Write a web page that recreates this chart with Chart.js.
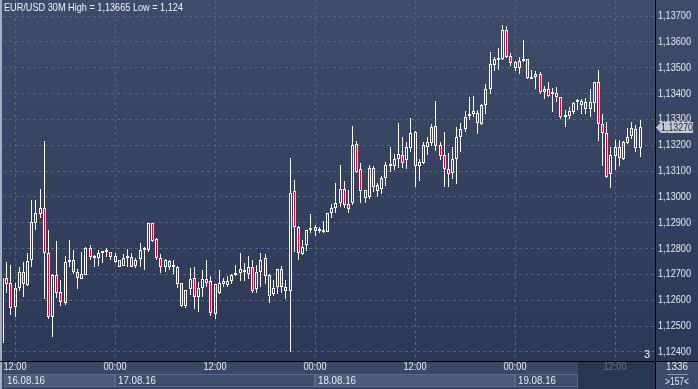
<!DOCTYPE html>
<html>
<head>
<meta charset="utf-8">
<title>EUR/USD 30M</title>
<script src="https://cdn.jsdelivr.net/npm/chart.js@4.4.0/dist/chart.umd.min.js"></script>
<style>
  html, body { margin: 0; padding: 0; background: #2d3956; overflow: hidden; }
  canvas { display: block; }
</style>
</head>
<body>
<canvas id="priceChart" width="698" height="389"></canvas>
<script>
// 30 minute bars, bar 0 = 16.08.16 11:00 (bar -1 is cut by the left edge)
var firstBar = -1;

var opens = [1.12434,
  1.12685, 1.12666, 1.12573, 1.12647, 1.12708, 1.12659, 1.12754, 1.12898, 1.12933, 1.12956,
  1.12782, 1.12537, 1.12698, 1.12631, 1.12591, 1.12747, 1.12756, 1.12711, 1.12683, 1.12698,
  1.12801, 1.12772, 1.12763, 1.12782, 1.12785, 1.12786, 1.12772, 1.12754, 1.12734, 1.12763,
  1.12769, 1.12733, 1.12760, 1.12795, 1.12795, 1.12898, 1.12837, 1.12763, 1.12730, 1.12752,
  1.12729, 1.12730, 1.12666, 1.12576, 1.12643, 1.12685, 1.12614, 1.12649, 1.12681, 1.12674,
  1.12546, 1.12627, 1.12675, 1.12659, 1.12676, 1.12697, 1.12707, 1.12717, 1.12702, 1.12728,
  1.12643, 1.12711, 1.12763, 1.12697, 1.12623, 1.12650, 1.12720, 1.12650, 1.12637, 1.13021,
  1.12885, 1.12779, 1.12813, 1.12872, 1.12883, 1.12867, 1.12872, 1.12865, 1.12936, 1.12956,
  1.12978, 1.13029, 1.12971, 1.12978, 1.13205, 1.13107, 1.13027, 1.13001, 1.13112, 1.13046,
  1.13029, 1.13074, 1.13121, 1.13121, 1.13145, 1.13162, 1.13143, 1.13190, 1.13252, 1.13121,
  1.13132, 1.13194, 1.13210, 1.13274, 1.13201, 1.13162, 1.13108, 1.13091, 1.13145, 1.13230,
  1.13263, 1.13314, 1.13319, 1.13323, 1.13282, 1.13355, 1.13416, 1.13510, 1.13530, 1.13532,
  1.13646, 1.13545, 1.13524, 1.13497, 1.13526, 1.13532, 1.13463, 1.13463, 1.13474, 1.13407,
  1.13417, 1.13399, 1.13404, 1.13385, 1.13310, 1.13313, 1.13330, 1.13367, 1.13372, 1.13366,
  1.13339, 1.13365, 1.13443, 1.13281, 1.13246, 1.13087, 1.13158, 1.13194, 1.13148, 1.13210,
  1.13236, 1.13261, 1.13190];

var highs = [1.12690,
  1.12750, 1.12737, 1.12666, 1.12730, 1.12750, 1.12782, 1.12988, 1.12988, 1.13030, 1.13217,
  1.12872, 1.12700, 1.12830, 1.12679, 1.12772, 1.12834, 1.12795, 1.12720, 1.12786, 1.12805,
  1.12813, 1.12774, 1.12795, 1.12792, 1.12801, 1.12788, 1.12782, 1.12756, 1.12779, 1.12800,
  1.12782, 1.12764, 1.12821, 1.12805, 1.12900, 1.12900, 1.12840, 1.12779, 1.12759, 1.12756,
  1.12754, 1.12733, 1.12667, 1.12641, 1.12723, 1.12730, 1.12672, 1.12717, 1.12756, 1.12694,
  1.12664, 1.12717, 1.12685, 1.12692, 1.12702, 1.12736, 1.12782, 1.12746, 1.12772, 1.12754,
  1.12737, 1.12782, 1.12779, 1.12702, 1.12679, 1.12721, 1.12733, 1.12679, 1.13150, 1.13066,
  1.12888, 1.12834, 1.12873, 1.12934, 1.12892, 1.12885, 1.12908, 1.12939, 1.12972, 1.13055,
  1.13123, 1.13061, 1.13027, 1.13274, 1.13216, 1.13130, 1.13028, 1.13122, 1.13119, 1.13055,
  1.13081, 1.13136, 1.13194, 1.13166, 1.13287, 1.13233, 1.13214, 1.13304, 1.13256, 1.13145,
  1.13214, 1.13233, 1.13282, 1.13371, 1.13211, 1.13251, 1.13168, 1.13194, 1.13269, 1.13287,
  1.13332, 1.13388, 1.13390, 1.13336, 1.13359, 1.13437, 1.13559, 1.13543, 1.13575, 1.13665,
  1.13663, 1.13555, 1.13527, 1.13540, 1.13607, 1.13533, 1.13491, 1.13488, 1.13484, 1.13429,
  1.13443, 1.13420, 1.13426, 1.13388, 1.13336, 1.13346, 1.13367, 1.13377, 1.13380, 1.13381,
  1.13416, 1.13444, 1.13491, 1.13321, 1.13291, 1.13194, 1.13220, 1.13220, 1.13216, 1.13265,
  1.13291, 1.13278, 1.13297];

var lows = [1.12430,
  1.12627, 1.12543, 1.12537, 1.12637, 1.12612, 1.12656, 1.12730, 1.12872, 1.12917, 1.12604,
  1.12527, 1.12459, 1.12608, 1.12579, 1.12582, 1.12730, 1.12702, 1.12643, 1.12681, 1.12696,
  1.12754, 1.12730, 1.12733, 1.12743, 1.12769, 1.12756, 1.12746, 1.12728, 1.12733, 1.12730,
  1.12728, 1.12724, 1.12730, 1.12717, 1.12788, 1.12827, 1.12754, 1.12707, 1.12711, 1.12717,
  1.12701, 1.12647, 1.12574, 1.12572, 1.12621, 1.12567, 1.12556, 1.12614, 1.12653, 1.12539,
  1.12527, 1.12625, 1.12653, 1.12650, 1.12663, 1.12692, 1.12676, 1.12676, 1.12683, 1.12630,
  1.12630, 1.12650, 1.12662, 1.12591, 1.12618, 1.12623, 1.12630, 1.12604, 1.12400, 1.12788,
  1.12754, 1.12775, 1.12792, 1.12862, 1.12849, 1.12862, 1.12862, 1.12864, 1.12917, 1.12936,
  1.12962, 1.12958, 1.12936, 1.12969, 1.13091, 1.12978, 1.12978, 1.12992, 1.13020, 1.13001,
  1.13011, 1.13043, 1.13097, 1.13104, 1.13110, 1.13110, 1.13108, 1.13175, 1.13039, 1.13063,
  1.13127, 1.13162, 1.13198, 1.13177, 1.13143, 1.13039, 1.13039, 1.13068, 1.13050, 1.13175,
  1.13252, 1.13297, 1.13308, 1.13243, 1.13278, 1.13321, 1.13398, 1.13488, 1.13491, 1.13530,
  1.13536, 1.13506, 1.13488, 1.13475, 1.13523, 1.13456, 1.13455, 1.13416, 1.13398, 1.13380,
  1.13388, 1.13330, 1.13368, 1.13300, 1.13272, 1.13300, 1.13321, 1.13336, 1.13321, 1.13321,
  1.13310, 1.13330, 1.13217, 1.13121, 1.13074, 1.13036, 1.13104, 1.13121, 1.13143, 1.13203,
  1.13226, 1.13175, 1.13156];

var closes = [1.12685,
  1.12663, 1.12569, 1.12647, 1.12708, 1.12663, 1.12752, 1.12902, 1.12937, 1.12956, 1.12782,
  1.12534, 1.12698, 1.12630, 1.12592, 1.12747, 1.12752, 1.12711, 1.12685, 1.12702, 1.12801,
  1.12769, 1.12763, 1.12782, 1.12787, 1.12787, 1.12769, 1.12750, 1.12730, 1.12763, 1.12769,
  1.12730, 1.12756, 1.12795, 1.12800, 1.12898, 1.12831, 1.12763, 1.12728, 1.12754, 1.12730,
  1.12733, 1.12663, 1.12576, 1.12640, 1.12683, 1.12612, 1.12647, 1.12683, 1.12666, 1.12552,
  1.12663, 1.12666, 1.12663, 1.12676, 1.12698, 1.12702, 1.12720, 1.12708, 1.12728, 1.12637,
  1.12708, 1.12756, 1.12694, 1.12617, 1.12647, 1.12720, 1.12650, 1.12637, 1.13014, 1.12885,
  1.12782, 1.12805, 1.12872, 1.12876, 1.12867, 1.12872, 1.12864, 1.12936, 1.12958, 1.12978,
  1.13029, 1.12969, 1.12953, 1.13201, 1.13095, 1.13024, 1.12994, 1.13112, 1.13039, 1.13024,
  1.13072, 1.13123, 1.13125, 1.13146, 1.13165, 1.13132, 1.13194, 1.13246, 1.13121, 1.13136,
  1.13201, 1.13214, 1.13272, 1.13198, 1.13159, 1.13107, 1.13088, 1.13146, 1.13230, 1.13264,
  1.13310, 1.13319, 1.13332, 1.13285, 1.13355, 1.13416, 1.13514, 1.13532, 1.13533, 1.13646,
  1.13543, 1.13519, 1.13497, 1.13526, 1.13531, 1.13459, 1.13457, 1.13474, 1.13407, 1.13417,
  1.13392, 1.13403, 1.13385, 1.13310, 1.13318, 1.13331, 1.13365, 1.13371, 1.13355, 1.13339,
  1.13366, 1.13443, 1.13281, 1.13246, 1.13078, 1.13162, 1.13194, 1.13149, 1.13214, 1.13233,
  1.13265, 1.13190, 1.13269];

// time axis
var timeTicks = [2, 26, 50, 74, 98, 122, 146];
var timeLabels = ['12:00', '00:00', '12:00', '00:00', '12:00', '00:00', '12:00'];
var dayStarts = [-0.6, 26, 74, 122];
var dayLabels = ['16.08.16', '17.08.16', '18.08.16', '19.08.16'];
var lastDayEnd = 137;

var lastPrice = 1.13270;
var titleText = 'EUR/USD 30M High = 1,13665 Low = 1,124';

var FONT = '11px "Liberation Sans", Arial, sans-serif';

function priceText(v) {
    return v.toFixed(5).replace('.', ',');
}

// Build candle pieces
var bodies = [], upWicks = [], downWicks = [], bodyFill = [];
for (var i = 0; i < opens.length; i++) {
    var xi = firstBar + i;
    var bodyHi = Math.max(opens[i], closes[i]);
    var bodyLo = Math.min(opens[i], closes[i]);
    bodies.push({ x: xi, y: [bodyLo, bodyHi] });
    upWicks.push({ x: xi, y: [bodyHi, highs[i]] });
    downWicks.push({ x: xi, y: [lows[i], bodyLo] });
    bodyFill.push(closes[i] < opens[i] ? '#e4002b' : 'rgba(0,0,0,0)');
}

// Snap candles to whole pixels so the 1px lines stay sharp
var snapBars = {
    id: 'snapBars',
    beforeDatasetsDraw: function(chart) {
        chart.data.datasets.forEach(function(ds, di) {
            chart.getDatasetMeta(di).data.forEach(function(bar) {
                bar.x = Math.floor(bar.x) + 0.5;
                bar.y = Math.round(bar.y);
                bar.base = Math.round(bar.base);
            });
        });
    }
};

// Background, axis strips, labels, title, price tag
var decor = {
    id: 'decor',
    beforeDraw: function(chart) {
        var c = chart.ctx, a = chart.chartArea;
        var W = chart.width, H = chart.height;
        var xs = chart.scales.x;

        var g = c.createLinearGradient(0, 0, 0, a.bottom);
        g.addColorStop(0, '#3f4c69');
        g.addColorStop(1, '#2c3856');
        c.fillStyle = g;
        c.fillRect(0, 0, W, a.bottom);

        // bottom strip
        c.fillStyle = '#3b4865';
        c.fillRect(0, a.bottom, W, H - a.bottom);

        // date boxes
        c.font = FONT;
        c.textBaseline = 'middle';
        c.textAlign = 'left';
        for (var d = 0; d < dayStarts.length; d++) {
            var x0 = Math.round(xs.getPixelForValue(dayStarts[d]));
            var x1 = Math.round(xs.getPixelForValue(d + 1 < dayStarts.length ? dayStarts[d + 1] : lastDayEnd));
            c.fillStyle = d % 2 === 0 ? '#4d5a78' : '#404d6a';
            c.fillRect(x0, 374, x1 - x0, 13);
            c.strokeStyle = '#5c6985';
            c.lineWidth = 1;
            c.strokeRect(x0 + 0.5, 374.5, x1 - x0 - 1, 12);
            c.fillStyle = '#e8edf5';
            c.fillText(dayLabels[d], x0 + 3, 381, 38);
        }

        // empty part of the time strip
        var xd = Math.round(xs.getPixelForValue(lastDayEnd));
        c.fillStyle = '#2a3550';
        c.fillRect(xd, a.bottom, a.right - xd, H - a.bottom);

        // counter box under the price axis
        c.fillStyle = '#3d4a67';
        c.fillRect(a.right, a.bottom, W - a.right, H - a.bottom);
    },
    afterDraw: function(chart) {
        var c = chart.ctx, a = chart.chartArea;
        var W = chart.width, H = chart.height;
        var xs = chart.scales.x, ys = chart.scales.y;

        // window frame and separators
        c.fillStyle = '#a3aec0';
        c.fillRect(0, 0, 2, H);
        c.fillStyle = '#000000';
        c.fillRect(a.right, 0, 1, H);
        c.fillRect(0, a.bottom, W, 1);

        c.font = FONT;
        c.textBaseline = 'middle';

        // price labels
        c.textAlign = 'left';
        c.fillStyle = '#e3e8f0';
        ys.ticks.forEach(function(t) {
            c.fillText(priceText(t.value), a.right + 3, ys.getPixelForValue(t.value), 33);
        });

        // time labels
        c.textAlign = 'center';
        xs.ticks.forEach(function(t, j) {
            c.fillStyle = j === timeTicks.length - 1 ? '#65718c' : '#e8edf5';
            c.fillText(timeLabels[j], xs.getPixelForValue(t.value), 367, 23);
        });

        // title
        c.textAlign = 'left';
        c.fillStyle = '#f0f3f8';
        c.fillText(titleText, 4, 8, 179);

        // "3" marker
        c.textAlign = 'right';
        c.fillText('3', 650, 355);

        // counters
        c.textAlign = 'center';
        c.fillStyle = '#e8edf5';
        c.fillText('1336', 677, 367, 22);
        c.fillText('>157<', 677, 382, 24);
        c.fillStyle = '#8c97ab';
        c.fillRect(667, 374, 21, 1);

        // last price tag
        var py = Math.round(ys.getPixelForValue(lastPrice)) + 0.5;
        c.beginPath();
        c.moveTo(a.right + 1, py);
        c.lineTo(a.right + 6, py - 5.5);
        c.lineTo(693, py - 5.5);
        c.lineTo(693, py + 5.5);
        c.lineTo(a.right + 6, py + 5.5);
        c.closePath();
        c.fillStyle = '#c3c8d2';
        c.fill();
        c.fillStyle = '#1d2438';
        c.textAlign = 'left';
        c.fillText(priceText(lastPrice), a.right + 6, py, 32);
    }
};

var ctx = document.getElementById('priceChart').getContext('2d');
new Chart(ctx, {
    type: 'bar',
    data: {
        datasets: [{
            data: upWicks,
            backgroundColor: '#ffffff',
            borderWidth: 0,
            maxBarThickness: 1,
            grouped: false,
            inflateAmount: 0,
            clip: 0
        }, {
            data: downWicks,
            backgroundColor: '#ffffff',
            borderWidth: 0,
            maxBarThickness: 1,
            grouped: false,
            inflateAmount: 0,
            clip: 0
        }, {
            data: bodies,
            backgroundColor: bodyFill,
            borderColor: '#ffffff',
            borderWidth: 1,
            borderSkipped: false,
            maxBarThickness: 3,
            minBarLength: 2,
            grouped: false,
            inflateAmount: 0,
            clip: 0
        }]
    },
    options: {
        responsive: false,
        devicePixelRatio: 1,
        animation: false,
        events: [],
        categoryPercentage: 1,
        barPercentage: 1,
        layout: { padding: { left: 3, top: 0, right: 0, bottom: 0 } },
        plugins: {
            legend: { display: false },
            tooltip: { enabled: false }
        },
        scales: {
            x: {
                type: 'linear',
                min: -0.88,
                max: 155.6,
                offset: false,
                afterBuildTicks: function(axis) {
                    axis.ticks = timeTicks.map(function(v) { return { value: v }; });
                },
                afterFit: function(axis) { axis.height = 28; },
                grid: { color: '#56637f', drawTicks: false, offset: false },
                border: { display: false, dash: [3, 3] },
                ticks: { display: false }
            },
            y: {
                position: 'right',
                min: 1.12365,
                max: 1.13762,
                afterFit: function(axis) { axis.width = 43; },
                grid: { color: '#56637f', drawTicks: false },
                border: { display: false, dash: [3, 3] },
                ticks: { display: false, stepSize: 0.001, includeBounds: false }
            }
        }
    },
    plugins: [decor, snapBars]
});
</script>
</body>
</html>
